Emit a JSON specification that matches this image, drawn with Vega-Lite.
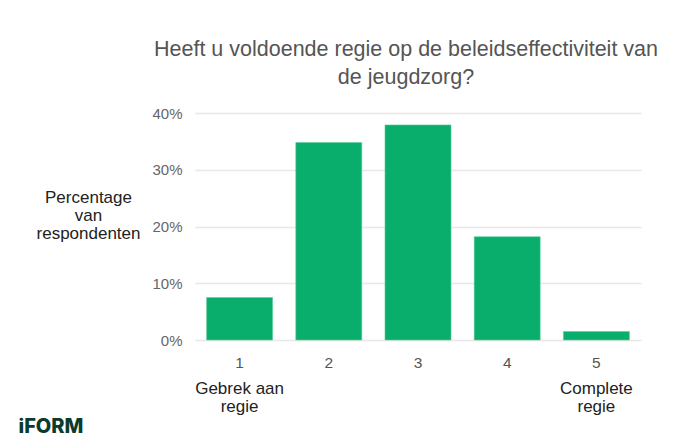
{
  "$schema": "https://vega.github.io/schema/vega-lite/v6.json",
  "autosize": "none",
  "width": 446,
  "height": 227,
  "padding": {"left": 195, "top": 113, "right": 32, "bottom": 100},
  "background": "#ffffff",
  "config": {
    "view": {"stroke": null},
    "axisY": {
      "format": "%",
      "values": [0, 0.1, 0.2, 0.3, 0.4],
      "labelOverlap": false,
      "labelFont": "Liberation Sans",
      "labelFontSize": 15,
      "labelColor": "#666666",
      "labelPadding": 13,
      "ticks": false,
      "domain": false,
      "gridColor": "#e8e8e8",
      "gridWidth": 1.5,
      "titleAngle": 0,
      "titleAlign": "center",
      "titleBaseline": "middle",
      "titleX": -107,
      "titleY": 84,
      "titleFont": "Liberation Sans",
      "titleFontSize": 17,
      "titleFontWeight": "normal",
      "titleColor": "#222222",
      "titleLineHeight": 18
    }
  },
  "title": {
    "text": ["Heeft u voldoende regie op de beleidseffectiviteit van", "de jeugdzorg?"],
    "anchor": "middle",
    "frame": "group",
    "dx": -12,
    "offset": 18,
    "font": "Liberation Sans",
    "fontSize": 21.5,
    "fontWeight": "normal",
    "color": "#555555",
    "lineHeight": 28
  },
  "data": {
    "values": [
      {"score": "1", "share": 0.075, "desc": ["Gebrek aan", "regie"]},
      {"score": "2", "share": 0.348, "desc": [""]},
      {"score": "3", "share": 0.379, "desc": [""]},
      {"score": "4", "share": 0.182, "desc": [""]},
      {"score": "5", "share": 0.015, "desc": ["Complete", "regie"]}
    ]
  },
  "encoding": {
    "x": {
      "field": "score",
      "type": "ordinal",
      "scale": {"paddingInner": 0.26, "paddingOuter": 0.13},
      "axis": {
        "title": "iFORM",
        "titleX": -177,
        "titleY": 86,
        "titleAlign": "left",
        "titleBaseline": "middle",
        "titleFont": "Inter",
        "titleFontSize": 20,
        "titleFontWeight": 800,
        "titleColor": "#0b3b2c",
        "labelAngle": 0,
        "labelFont": "Liberation Sans",
        "labelFontSize": 15.5,
        "labelColor": "#555555",
        "labelPadding": 15,
        "ticks": false,
        "domain": false
      }
    }
  },
  "layer": [
    {
      "mark": {"type": "bar", "color": "#0aae6c", "stroke": "#5fcf9c", "strokeWidth": 0.6},
      "encoding": {
        "y": {
          "field": "share",
          "type": "quantitative",
          "scale": {"domain": [0, 0.4]},
          "axis": {
            "values": [0, 0.1, 0.2, 0.3, 0.4],
            "title": ["Percentage", "van", "respondenten"]
          }
        }
      }
    },
    {
      "mark": {
        "type": "text",
        "font": "Liberation Sans",
        "fontSize": 17,
        "color": "#222222",
        "baseline": "alphabetic",
        "align": "center",
        "dy": 54,
        "lineHeight": 18
      },
      "encoding": {
        "y": {
          "datum": 0,
          "type": "quantitative",
          "axis": {
            "values": [0, 0.1, 0.2, 0.3, 0.4],
            "title": ["Percentage", "van", "respondenten"]
          }
        },
        "text": {"field": "desc"}
      }
    }
  ]
}
